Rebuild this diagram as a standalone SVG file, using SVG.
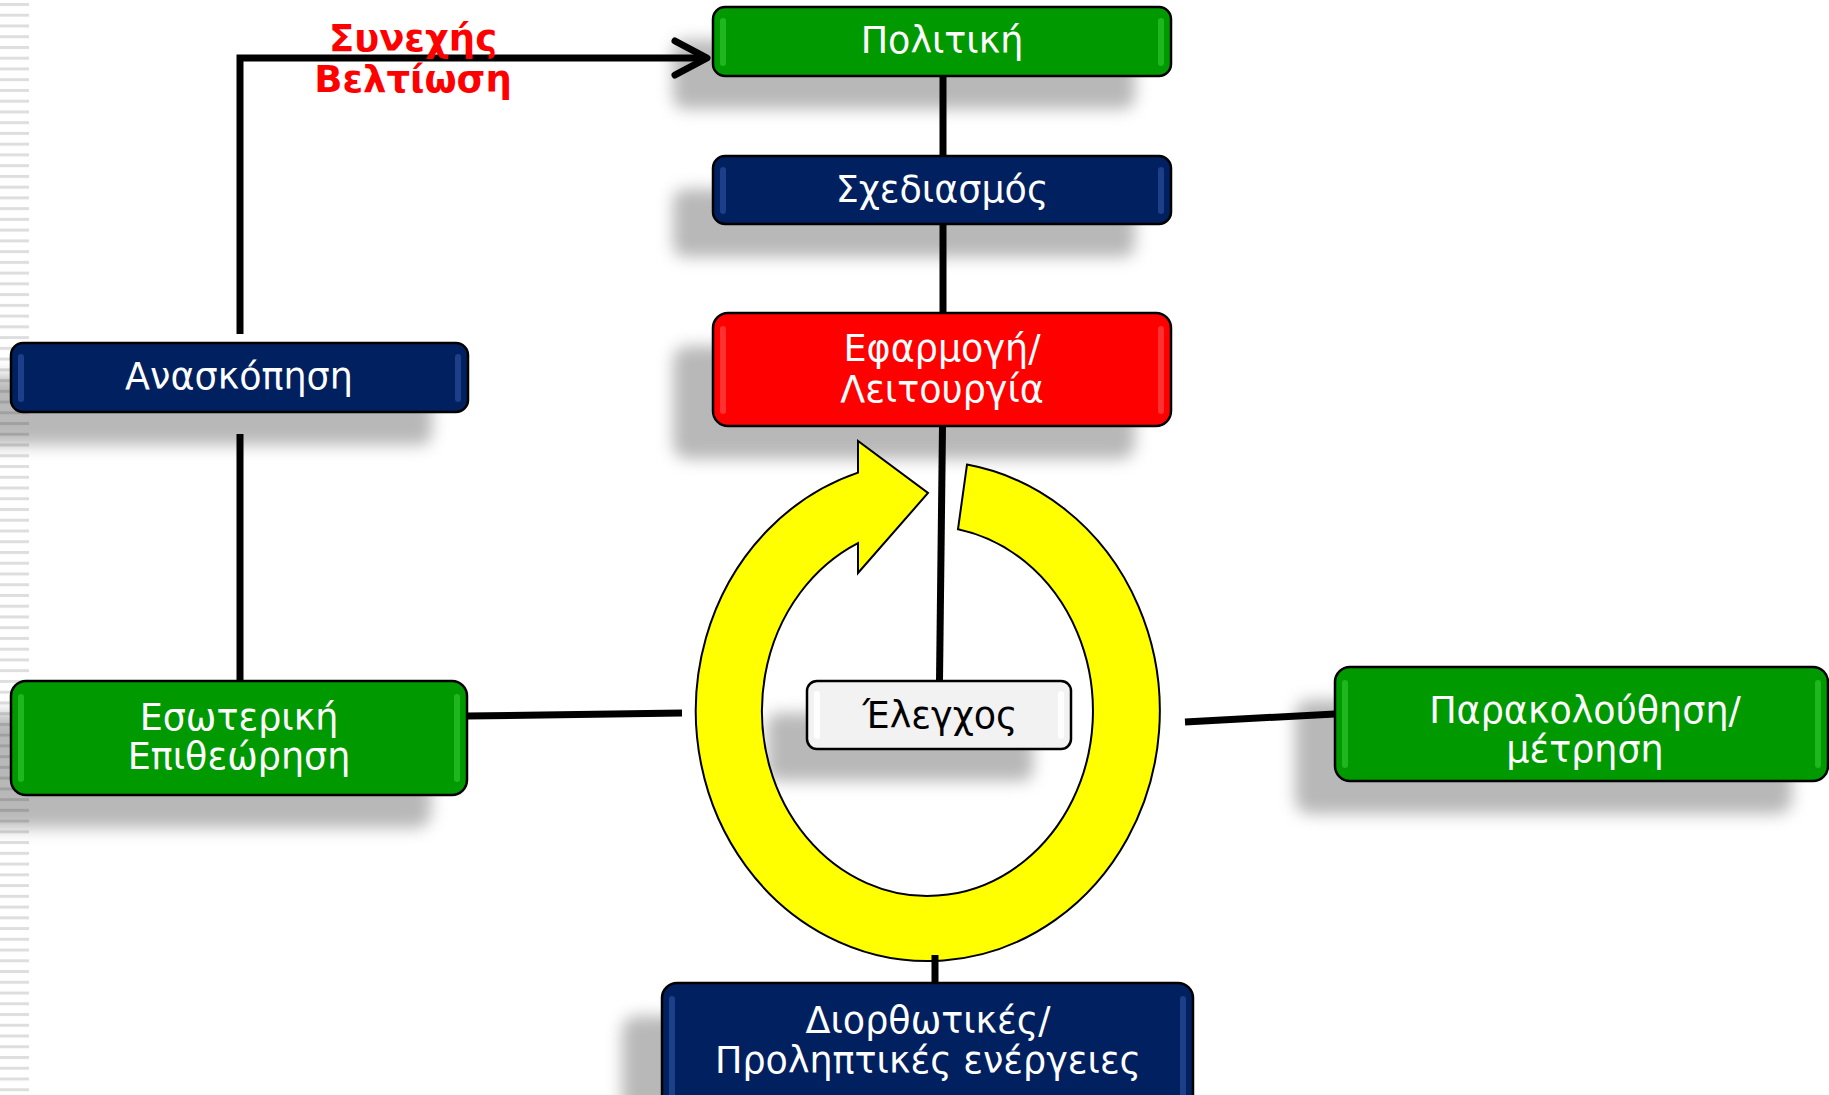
<svg xmlns="http://www.w3.org/2000/svg" width="1829" height="1095" viewBox="0 0 1829 1095">
<defs>
<style>
.txt{font-family:"DejaVu Sans",Verdana,sans-serif;font-size:36.5px;fill:#fff;text-anchor:middle}
.dark{fill:#000}
.box{stroke:#000;stroke-width:2.5}
.green{fill:#009900}
.navy{fill:#002060}
.red{fill:#ff0000}
.grey{fill:#f2f2f2}
.conn{stroke:#000;stroke-width:7;fill:none}
.shadow{fill:#000;fill-opacity:0.28;filter:url(#blur)}
.hlG{fill:#3fd43f;opacity:0.5}
.hlN{fill:#3a5cb0;opacity:0.5}
.hlR{fill:#ff6060;opacity:0.5}
.hlW{fill:#ffffff;opacity:0.9}
.title{font-family:"DejaVu Sans",Verdana,sans-serif;font-weight:bold;font-size:37px;fill:#ff0000;text-anchor:middle}
</style>
<filter id="blur" x="-20%" y="-60%" width="140%" height="220%"><feGaussianBlur stdDeviation="8"/></filter>
<pattern id="stripes" x="0" y="3" width="29" height="10.745" patternUnits="userSpaceOnUse"><rect x="0" y="0" width="29" height="3" fill="#dedede"/></pattern>
<marker id="arrow" viewBox="0 0 44 44" refX="37" refY="22" markerWidth="44" markerHeight="44" markerUnits="userSpaceOnUse" orient="auto"><path d="M5 5 L37 22 L5 39" fill="none" stroke="#000" stroke-width="7" stroke-linecap="round" stroke-linejoin="round"/></marker>
</defs>
<rect width="1829" height="1095" fill="#fff"/>
<rect x="0" y="0" width="29" height="1095" fill="url(#stripes)"/>

<g id="shadows">
<rect class="shadow" x="673" y="40" width="462" height="69" rx="12"/>
<rect class="shadow" x="673" y="189" width="462" height="68" rx="12"/>
<rect class="shadow" x="673" y="346" width="462" height="113" rx="15"/>
<rect class="shadow" x="-29" y="376" width="461" height="69" rx="12"/>
<rect class="shadow" x="-29" y="714" width="460" height="114" rx="15"/>
<rect class="shadow" x="767" y="713" width="266" height="68" rx="10"/>
<rect class="shadow" x="1295" y="700" width="497" height="114" rx="15"/>
<rect class="shadow" x="622" y="1016" width="535" height="130" rx="15"/>
</g>

<g id="cycle">
<path d="M967 464.6 A232 250 0 1 1 858 472.6 L858 441 L928 493 L858 573 L858 543.1 A165.5 185 0 1 0 958 529.2 Z" fill="#ffff00" stroke="#000" stroke-width="2"/>
</g>

<g id="connectors">
<path class="conn" d="M943 76 V156"/>
<path class="conn" d="M943 224 V313"/>
<path class="conn" d="M942.5 426 L939.5 681"/>
<path class="conn" d="M240 334 V58 H707" marker-end="url(#arrow)"/>
<path class="conn" d="M240 434 V682"/>
<path class="conn" d="M467 716 L682 713"/>
<path class="conn" d="M1185 722 L1335 714"/>
<path class="conn" d="M935 955 V983"/>
</g>

<g id="label-synexis">
<text class="title" x="413" y="51">Συνεχής</text>
<text class="title" x="413" y="92">Βελτίωση</text>
</g>

<g id="node-politiki">
<rect class="box green" x="713" y="7" width="458" height="69" rx="12"/>
<rect class="hlG" x="720" y="18" width="6" height="48" rx="3"/>
<rect class="hlG" x="1158" y="18" width="6" height="48" rx="3"/>
<text class="txt" x="942" y="53">Πολιτική</text>
</g>

<g id="node-sxediasmos">
<rect class="box navy" x="713" y="156" width="458" height="68" rx="12"/>
<rect class="hlN" x="720" y="167" width="6" height="47" rx="3"/>
<rect class="hlN" x="1158" y="167" width="6" height="47" rx="3"/>
<text class="txt" x="942" y="202">Σχεδιασμός</text>
</g>

<g id="node-efarmogi">
<rect class="box red" x="713" y="313" width="458" height="113" rx="15"/>
<rect class="hlR" x="720" y="326" width="6" height="88" rx="3"/>
<rect class="hlR" x="1158" y="326" width="6" height="88" rx="3"/>
<text class="txt" x="942" y="361">Εφαρμογή/</text>
<text class="txt" x="942" y="402">Λειτουργία</text>
</g>

<g id="node-anaskopisi">
<rect class="box navy" x="11" y="343" width="457" height="69" rx="12"/>
<rect class="hlN" x="18" y="354" width="6" height="48" rx="3"/>
<rect class="hlN" x="455" y="354" width="6" height="48" rx="3"/>
<text class="txt" x="239" y="389">Ανασκόπηση</text>
</g>

<g id="node-esoteriki">
<rect class="box green" x="11" y="681" width="456" height="114" rx="15"/>
<rect class="hlG" x="18" y="694" width="6" height="88" rx="3"/>
<rect class="hlG" x="454" y="694" width="6" height="88" rx="3"/>
<text class="txt" x="239" y="730">Εσωτερική</text>
<text class="txt" x="239" y="769">Επιθεώρηση</text>
</g>

<g id="node-elegxos">
<rect class="box grey" x="807" y="681" width="264" height="68" rx="10"/>
<rect class="hlW" x="814" y="691" width="6" height="48" rx="3"/>
<rect class="hlW" x="1058" y="691" width="6" height="48" rx="3"/>
<text class="txt dark" x="940" y="728">Έλεγχος</text>
</g>

<g id="node-parakolouthisi">
<rect class="box green" x="1335" y="667" width="493" height="114" rx="15"/>
<rect class="hlG" x="1342" y="680" width="6" height="88" rx="3"/>
<rect class="hlG" x="1815" y="680" width="6" height="88" rx="3"/>
<text class="txt" x="1585" y="723">Παρακολούθηση/</text>
<text class="txt" x="1585" y="762">μέτρηση</text>
</g>

<g id="node-diorthotikes">
<rect class="box navy" x="662" y="983" width="531" height="130" rx="15"/>
<rect class="hlN" x="669" y="996" width="6" height="110" rx="3"/>
<rect class="hlN" x="1180" y="996" width="6" height="110" rx="3"/>
<text class="txt" x="928" y="1033">Διορθωτικές/</text>
<text class="txt" x="928" y="1073">Προληπτικές ενέργειες</text>
</g>
</svg>
